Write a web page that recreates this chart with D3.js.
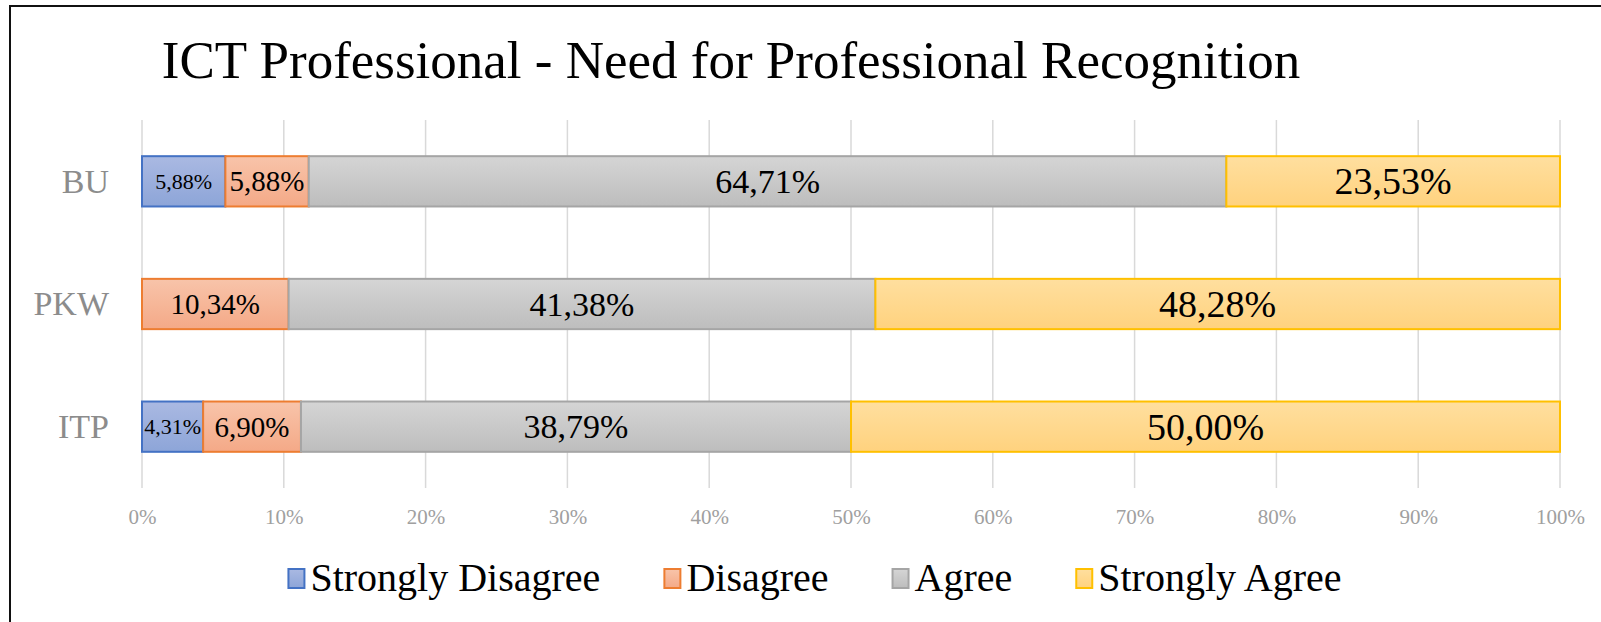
<!DOCTYPE html>
<html>
<head>
<meta charset="utf-8">
<script src="https://cdn.jsdelivr.net/npm/d3@7"></script>
<style>
  body { margin: 0; background: #fff; }
</style>
</head>
<body>
<div id="chart"></div>
<script>
// données (en %)
const categories = ['BU', 'PKW', 'ITP'];
const seriesNames = ['Strongly Disagree', 'Disagree', 'Agree', 'Strongly Agree'];
const stronglyDisagree = [5.88, 0, 4.31];
const disagree = [5.88, 10.34, 6.90];
const agree = [64.71, 41.38, 38.79];
const stronglyAgree = [23.53, 48.28, 50.00];
const xTicks = [0, 10, 20, 30, 40, 50, 60, 70, 80, 90, 100];
const titleText = 'ICT Professional - Need for Professional Recognition';

const FONT = 'Liberation Serif';

let W = 1601, H = 622;
let margin = { top: 120, right: 41, bottom: 134, left: 142 };

// couleurs façon Excel
const fills = [['#aab9e2', '#8da5d8'], ['#f8c4aa', '#f4a987'], ['#d5d5d5', '#bdbdbd'], ['#ffdf9f', '#ffd27e']];
const strokes = ['#4472c4', '#ed7d31', '#a5a5a5', '#ffc000'];
const labelSizes = [22, 29, 34, 38];

let svg = d3.select('#chart').append('svg')
    .attr('width', W)
    .attr('height', H)
    .attr('font-family', FONT);

let defs = svg.append('defs');
fills.forEach((f, i) => {
    let g = defs.append('linearGradient').attr('id', 'grad' + i)
        .attr('x1', 0).attr('y1', 0).attr('x2', 0).attr('y2', 1);
    g.append('stop').attr('offset', '0%').attr('stop-color', f[0]);
    g.append('stop').attr('offset', '100%').attr('stop-color', f[1]);
});

// cadre (seulement haut et gauche visibles)
svg.append('path')
    .attr('d', `M10,${H} V6 H${W}`)
    .attr('fill', 'none')
    .attr('stroke', '#111')
    .attr('stroke-width', 2);

// titre
svg.append('text')
    .attr('x', 731)
    .attr('y', 78)
    .attr('text-anchor', 'middle')
    .attr('font-family', FONT)
    .attr('font-size', 53)
    .attr('fill', '#000')
    .text(titleText);

let x = d3.scaleLinear()
    .domain([0, 100])
    .range([margin.left, W - margin.right]);

let y = d3.scaleBand()
    .domain(categories)
    .range([margin.top, H - margin.bottom])
    .paddingInner(0.59)
    .paddingOuter(0.295);

// grille verticale
svg.append('g')
    .selectAll('line')
    .data(xTicks)
    .join('line')
    .attr('x1', d => x(d)).attr('x2', d => x(d))
    .attr('y1', margin.top).attr('y2', H - margin.bottom)
    .attr('stroke', '#d9d9d9')
    .attr('stroke-width', 1.5);

// axe X
let xAxis = svg.append('g')
    .attr('transform', 'translate(0,' + (H - margin.bottom + 18) + ')')
    .call(d3.axisBottom(x).tickValues(xTicks).tickSize(0).tickFormat(d => d + '%'));
xAxis.attr('font-family', FONT);
xAxis.select('.domain').remove();
xAxis.selectAll('text')
    .attr('font-family', FONT)
    .attr('font-size', 21)
    .attr('fill', '#a0a0a0')
    .attr('dy', '0.71em');

// axe Y (catégories)
let yAxis = svg.append('g')
    .attr('transform', 'translate(' + (margin.left - 33) + ',0)')
    .call(d3.axisLeft(y).tickSize(0).tickPadding(0));
yAxis.attr('font-family', FONT);
yAxis.select('.domain').remove();
yAxis.selectAll('text')
    .attr('font-family', FONT)
    .attr('font-size', 34)
    .attr('fill', '#8c8c8c')
    .attr('dy', '0.33em');

// données empilées
let rows = categories.map((c, i) => ({
    cat: c,
    'Strongly Disagree': stronglyDisagree[i],
    'Disagree': disagree[i],
    'Agree': agree[i],
    'Strongly Agree': stronglyAgree[i]
}));
let stacked = d3.stack().keys(seriesNames)(rows);

let fr = d3.formatLocale({ decimal: ',', thousands: '.', grouping: [3], currency: ['', ''] });
let fmt = fr.format('.2f');

let layers = svg.append('g')
    .selectAll('g')
    .data(stacked)
    .join('g')
    .attr('fill', (d, i) => 'url(#grad' + i + ')')
    .attr('stroke', (d, i) => strokes[i]);

layers.selectAll('rect')
    .data(d => d.filter(s => s[1] - s[0] > 0))
    .join('rect')
    .attr('x', d => x(d[0]))
    .attr('y', d => y(d.data.cat))
    .attr('width', d => x(d[1]) - x(d[0]))
    .attr('height', y.bandwidth())
    .attr('stroke-width', 2);

// étiquettes de données
let labels = svg.append('g');
stacked.forEach((serie, i) => {
    labels.selectAll('.lab' + i)
        .data(serie.filter(s => s[1] - s[0] > 0))
        .join('text')
        .attr('class', 'lab' + i)
        .attr('x', d => (x(d[0]) + x(d[1])) / 2)
        .attr('y', d => y(d.data.cat) + y.bandwidth() / 2 + labelSizes[i] * 0.34)
        .attr('text-anchor', 'middle')
        .attr('font-family', FONT)
        .attr('font-size', labelSizes[i])
        .attr('fill', '#000')
        .text(d => fmt(d[1] - d[0]) + '%');
});

// légende
let legend = svg.append('g');
let items = legend.selectAll('g')
    .data(seriesNames)
    .join('g');
items.append('rect')
    .attr('width', 16).attr('height', 19)
    .attr('y', 569)
    .attr('fill', (d, i) => 'url(#grad' + i + ')')
    .attr('stroke', (d, i) => strokes[i])
    .attr('stroke-width', 2);
items.append('text')
    .attr('x', 22)
    .attr('y', 591)
    .attr('font-family', FONT)
    .attr('font-size', 40)
    .attr('fill', '#000')
    .text(d => d);

let offset = 0, gap = 64, positions = [];
items.each(function () {
    positions.push(offset);
    offset += this.getBBox().width + gap;
});
let total = offset - gap;
let start = 815 - total / 2;
items.attr('transform', (d, i) => 'translate(' + (start + positions[i]) + ',0)');
</script>
</body>
</html>
